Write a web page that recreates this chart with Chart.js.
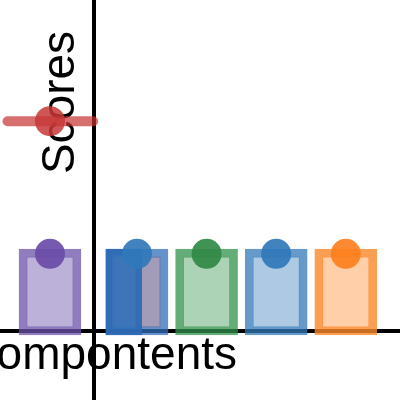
<!DOCTYPE html>
<html lang="en">
<head>
<meta charset="UTF-8">
<title>Scores by component</title>
<script src="https://cdn.jsdelivr.net/npm/chart.js"></script>
<style>
  html,body{margin:0;padding:0;background:#fff}
  #wrap{width:400px;height:400px;position:relative}
</style>
</head>
<body>
<div id="wrap"><canvas id="chart"></canvas></div>
<script>
// components, placed on a linear x scale
const components=['c1','c2','c3','c4','c5'];
const compX=[-0.25,1,2,3,4];
const barLow=[-0.05,-0.05,-0.05,-0.05,-0.05];
const barHigh=[1.05,1.05,1.05,1.05,1.05];
const pointY=[0.99,0.99,0.99,0.99,0.99];
// narrow blue bar sitting over the left half of the 2nd component
const overlayX=[0.81];
const overlayLow=[-0.05];
const overlayHigh=[1.05];
// red reference line and its marker
const refLineX=[-0.86,0.37];
const refLineY=[2.69,2.69];
const refPointX=[-0.25];
const refPointY=[2.69];
const xTitle='compontents';
const yTitle='Scores';

// colours
const barFill=['rgba(106,81,170,0.45)','rgba(85,75,125,0.55)','rgba(49,145,75,0.4)','rgba(49,120,186,0.4)','rgba(253,135,40,0.4)'];
const barEdge=['rgba(106,81,170,0.75)','rgba(49,110,186,0.75)','rgba(49,145,75,0.75)','rgba(49,120,186,0.75)','rgba(253,135,40,0.8)'];
const pointFill=['rgba(106,76,168,0.92)','rgba(49,120,186,0.92)','rgba(49,138,70,0.92)','rgba(49,120,186,0.92)','rgba(253,128,30,0.92)'];

const titles={
  id:'titles',
  beforeDatasetsDraw(chart){
    const ctx=chart.ctx;
    ctx.save();
    ctx.fillStyle='#000';
    ctx.font='46px "Liberation Sans", Arial, sans-serif';
    ctx.textBaseline='alphabetic';
    ctx.textAlign='right';
    ctx.fillText(xTitle,237,369);
    ctx.translate(74,102.5);
    ctx.rotate(-Math.PI/2);
    ctx.textAlign='center';
    ctx.fillText(yTitle,0,0);
    ctx.restore();
  }
};

new Chart(document.getElementById('chart'),{
  type:'bar',
  data:{
    labels:components,
    datasets:[
      {
        type:'bar',
        data:compX.map((x,i)=>({x,y:[barLow[i],barHigh[i]]})),
        backgroundColor:barFill,
        borderColor:barEdge,
        borderWidth:8,
        borderSkipped:false,
        barThickness:62,
        grouped:false,
        clip:false,
        order:5
      },
      {
        type:'bar',
        data:overlayX.map((x,i)=>({x,y:[overlayLow[i],overlayHigh[i]]})),
        backgroundColor:'rgba(49,112,186,0.88)',
        borderColor:'rgba(45,105,180,0.92)',
        borderWidth:6,
        borderSkipped:false,
        barThickness:36,
        grouped:false,
        clip:false,
        order:4
      },
      {
        type:'line',
        data:refLineX.map((x,i)=>({x,y:refLineY[i]})),
        borderColor:'rgba(200,50,50,0.7)',
        borderWidth:10,
        borderCapStyle:'round',
        pointRadius:0,
        clip:false,
        order:3
      },
      {
        type:'scatter',
        data:compX.map((x,i)=>({x,y:pointY[i]})),
        backgroundColor:pointFill,
        borderWidth:0,
        pointRadius:15,
        clip:false,
        order:2
      },
      {
        type:'scatter',
        data:refPointX.map((x,i)=>({x,y:refPointY[i]})),
        backgroundColor:'rgba(200,55,55,0.85)',
        borderWidth:0,
        pointRadius:15,
        clip:false,
        order:1
      }
    ]
  },
  options:{
    responsive:true,
    maintainAspectRatio:false,
    animation:false,
    layout:{padding:0,autoPadding:false},
    plugins:{legend:{display:false},tooltip:{enabled:false}},
    scales:{
      x:{type:'linear',min:-0.968,max:4.779,offset:false,position:{y:0},
        ticks:{display:false},grid:{display:false,drawTicks:false,offset:false},
        border:{display:true,color:'#000',width:4}},
      y:{type:'linear',min:-0.885,max:4.244,position:{x:0.38},
        ticks:{display:false},grid:{display:false,drawTicks:false},
        border:{display:true,color:'#000',width:4}}
    }
  },
  plugins:[titles]
});
</script>
</body>
</html>
